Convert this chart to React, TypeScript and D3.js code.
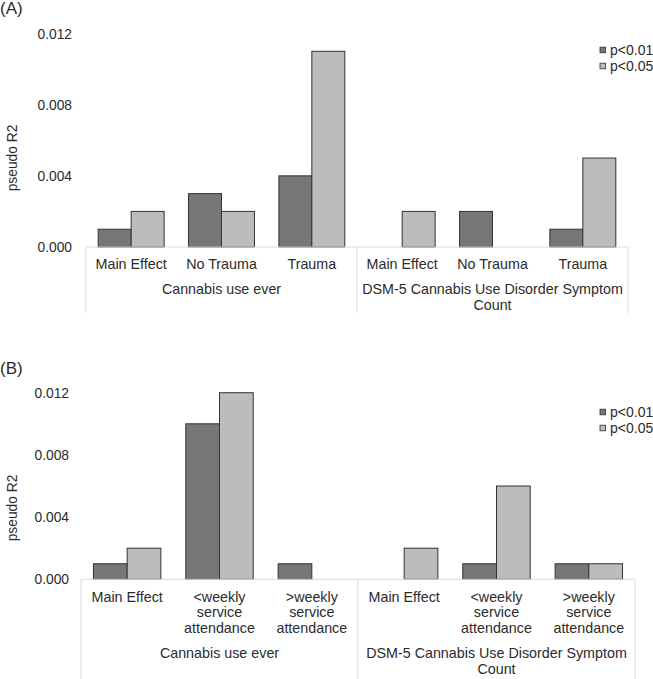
import React from "react";
import * as d3 from "d3";

// values
const seriesNames = ["p<0.01", "p<0.05"];
const yTicks = [0, 0.004, 0.008, 0.012];

const groupsA = ["Cannabis use ever", "DSM-5 Cannabis Use Disorder Symptom\nCount"];
const categoriesA = ["Main Effect", "No Trauma", "Trauma"];
const p01A = [0.001, 0.003, 0.004, 0, 0.002, 0.001];
const p05A = [0.002, 0.002, 0.011, 0.002, 0, 0.005];

const groupsB = ["Cannabis use ever", "DSM-5 Cannabis Use Disorder Symptom\nCount"];
const categoriesB = ["Main Effect", "<weekly\nservice\nattendance", ">weekly\nservice\nattendance"];
const p01B = [0.001, 0.01, 0.001, 0, 0.001, 0.001];
const p05B = [0.002, 0.012, 0, 0.002, 0.006, 0.001];

const colors = ["#777777", "#bcbcbc"];
const FONT = "'Liberation Sans', Arial, sans-serif";
const TEXT = "#2b2b2b";

type PanelProps = {
  label: string;
  labelY: number;
  zeroY: number;
  topY: number;
  x0: number;
  x1: number;
  tickRight: number;
  axisTitleY: number;
  catTop: number;
  groupTop: number;
  lineBottom: number;
  legendY: number;
  groups: string[];
  categories: string[];
  p01: number[];
  p05: number[];
};

const Panel = (props: PanelProps) => {
  const slots = d3.range(props.groups.length * props.categories.length);
  const y = d3.scaleLinear().domain([0, 0.012]).range([props.zeroY, props.topY]);
  const x = d3.scaleBand<number>().domain(slots).range([props.x0, props.x1]).padding(0);
  const inner = d3
    .scaleBand<string>()
    .domain(seriesNames)
    .range([0, x.bandwidth()])
    .paddingInner(0)
    .paddingOuter(0.37);
  const groupW = x.bandwidth() * props.categories.length;
  const values = [props.p01, props.p05];

  return (
    <g>
      <text x={0} y={props.labelY} fontSize={17} fill={TEXT}>
        {props.label}
      </text>
      {yTicks.map((t) => (
        <text
          key={t}
          x={props.tickRight}
          y={y(t) + 5}
          textAnchor="end"
          fontSize={13.8}
          fill={TEXT}
        >
          {d3.format(".3f")(t)}
        </text>
      ))}
      <text
        transform={`translate(13 ${props.axisTitleY}) rotate(-90)`}
        textAnchor="middle"
        dominantBaseline="middle"
        fontSize={13.8}
        fill={TEXT}
      >
        pseudo R2
      </text>
      {values.map((vals, s) =>
        vals.map((v, i) =>
          v > 0 ? (
            <rect
              key={`${s}-${i}`}
              x={(x(i) as number) + (inner(seriesNames[s]) as number)}
              y={y(v)}
              width={inner.bandwidth()}
              height={props.zeroY - y(v)}
              fill={colors[s]}
              stroke="#333"
              strokeWidth={1}
            />
          ) : null
        )
      )}
      <line x1={props.x0} x2={props.x1} y1={props.zeroY} y2={props.zeroY} stroke="#d9d9d9" />
      {d3.range(props.groups.length + 1).map((g) => (
        <line
          key={g}
          x1={props.x0 + g * groupW}
          x2={props.x0 + g * groupW}
          y1={props.zeroY}
          y2={props.lineBottom}
          stroke="#d9d9d9"
        />
      ))}
      {slots.map((i) => (
        <text
          key={i}
          x={(x(i) as number) + x.bandwidth() / 2}
          y={props.catTop}
          textAnchor="middle"
          fontSize={14.3}
          fill={TEXT}
        >
          {props.categories[i % props.categories.length].split("\n").map((l, k) => (
            <tspan key={k} x={(x(i) as number) + x.bandwidth() / 2} dy={k === 0 ? 0 : 15.8}>
              {l}
            </tspan>
          ))}
        </text>
      ))}
      {props.groups.map((g, gi) => (
        <text
          key={gi}
          x={props.x0 + gi * groupW + groupW / 2}
          y={props.groupTop}
          textAnchor="middle"
          fontSize={14.3}
          fill={TEXT}
        >
          {g.split("\n").map((l, k) => (
            <tspan key={k} x={props.x0 + gi * groupW + groupW / 2} dy={k === 0 ? 0 : 16.3}>
              {l}
            </tspan>
          ))}
        </text>
      ))}
      {seriesNames.map((n, s) => (
        <g key={n} transform={`translate(600 ${props.legendY + s * 16})`}>
          <rect x={0} y={-2.8} width={5.6} height={5.6} fill={colors[s]} stroke="#333" strokeWidth={0.8} />
          <text x={10} y={4.8} fontSize={14} fill={TEXT}>
            {n}
          </text>
        </g>
      ))}
    </g>
  );
};

const App = () => {
  return (
    <svg
      width={653}
      height={679}
      style={{ position: "absolute", left: 0, top: 0, background: "#fff" }}
      fontFamily={FONT}
    >
      <rect width={653} height={679} fill="#fff" />
      <Panel
        label="(A)"
        labelY={13.5}
        zeroY={247}
        topY={33.5}
        x0={86}
        x1={628}
        tickRight={72}
        axisTitleY={158}
        catTop={269}
        groupTop={294}
        lineBottom={313}
        legendY={50}
        groups={groupsA}
        categories={categoriesA}
        p01={p01A}
        p05={p05A}
      />
      <Panel
        label="(B)"
        labelY={374}
        zeroY={579.3}
        topY={392.7}
        x0={81}
        x1={635}
        tickRight={69}
        axisTitleY={508}
        catTop={601.5}
        groupTop={658}
        lineBottom={679}
        legendY={412}
        groups={groupsB}
        categories={categoriesB}
        p01={p01B}
        p05={p05B}
      />
    </svg>
  );
};

export default App;
